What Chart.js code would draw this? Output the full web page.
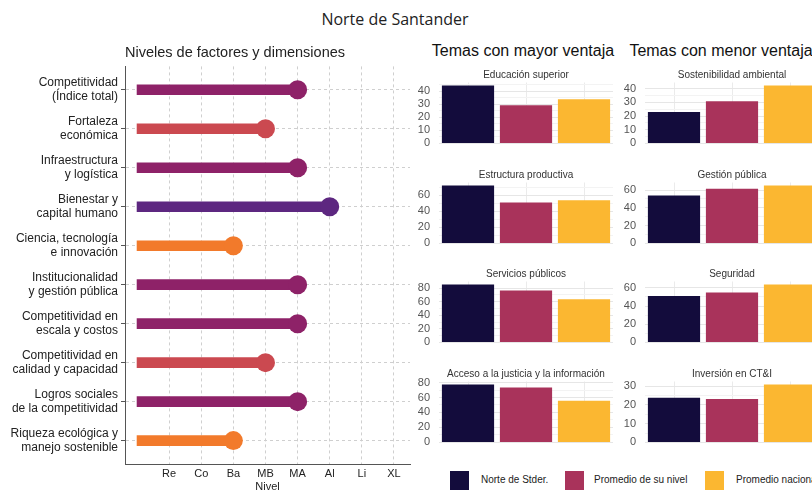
<!DOCTYPE html>
<html lang="es">
<head>
<meta charset="utf-8">
<title>Norte de Santander</title>
<script src="https://cdn.jsdelivr.net/npm/chart.js@4"></script>
<style>
  html, body { margin: 0; padding: 0; background: #fff; }
  body { width: 812px; height: 491px; overflow: hidden; position: relative;
         font-family: "Liberation Sans", Arial, sans-serif; color: #222; }
  .abs { position: absolute; }
  #mainTitle { left: 0; width: 790px; top: 8px; text-align: center;
               font: 16px "Open Sans", sans-serif; color: #222; }
  .section { top: 42px; width: 210px; text-align: center; font-size: 16px; color: #111; white-space: nowrap; }
  .legend-box { width: 19px; height: 19px; top: 471px; }
  .legend-text { top: 474px; font-size: 10px; color: #222; white-space: nowrap; }
  canvas { position: absolute; }
</style>
</head>
<body>
<div id="mainTitle" class="abs">Norte de Santander</div>
<div class="abs section" style="left:418px">Temas con mayor ventaja</div>
<div class="abs section" style="left:616px">Temas con menor ventaja</div>

<canvas id="levels" width="414" height="456" style="left:0;top:40px;z-index:1"></canvas>
<div id="panels"></div>
<div id="legend"></div>

<script>
// ---- Niveles de factores y dimensiones ----
const levelNames = ["Re", "Co", "Ba", "MB", "MA", "Al", "Li", "XL"];
const factorLabels = [
  ["Competitividad", "(Índice total)"],
  ["Fortaleza", "económica"],
  ["Infraestructura", "y logística"],
  ["Bienestar y", "capital humano"],
  ["Ciencia, tecnología", "e innovación"],
  ["Institucionalidad", "y gestión pública"],
  ["Competitividad en", "escala y costos"],
  ["Competitividad en", "calidad y capacidad"],
  ["Logros sociales", "de la competitividad"],
  ["Riqueza ecológica y", "manejo sostenible"]
];
const factorLevels = ["MA", "MB", "MA", "Al", "Ba", "MA", "MA", "MB", "MA", "Ba"];
const levelColors = { Ba: "#F27A2B", MB: "#CB4950", MA: "#8E2268", Al: "#5D2780" };

// ---- Temas con mayor / menor ventaja ----
const seriesNames = ["Norte de Stder.", "Promedio de su nivel", "Promedio nacional"];
const seriesColors = ["#130C3C", "#A9335B", "#FBB731"];
const topicTitles = [
  "Educación superior", "Sostenibilidad ambiental",
  "Estructura productiva", "Gestión pública",
  "Servicios públicos", "Seguridad",
  "Acceso a la justicia y la información", "Inversión en CT&I"
];
const deptValues     = [44.5, 23.0, 72.5, 54.0, 85.3, 51.0, 77.5, 23.8];
const levelAvgValues = [29.3, 30.8, 51.0, 61.5, 76.3, 55.0, 73.5, 23.2];
const nationalValues = [33.8, 42.5, 54.0, 65.3, 63.6, 63.8, 55.5, 31.0];
const tickSteps      = [10, 10, 20, 20, 20, 20, 20, 10];

const FONT = "'Liberation Sans', Arial, sans-serif";
Chart.defaults.font.family = FONT;
Chart.defaults.animation = false;

// Lollipop chart: a thin bar from 0 to the level plus a dot at its end.
const levelPoints = factorLevels.map((lv, i) => ({ x: levelNames.indexOf(lv) + 1, y: i }));
const levelPointColors = factorLevels.map(lv => levelColors[lv]);

new Chart(document.getElementById("levels"), {
  type: "bar",
  data: {
    datasets: [
      { type: "scatter", data: levelPoints, backgroundColor: levelPointColors,
        pointRadius: 9.5, pointBorderWidth: 0, order: 0, xAxisID: "x", yAxisID: "y" },
      { type: "bar", indexAxis: "y", data: levelPoints, backgroundColor: levelPointColors,
        barThickness: 10, borderWidth: 0, order: 1, xAxisID: "x", yAxisID: "y" }
    ]
  },
  options: {
    indexAxis: "y",
    responsive: false,
    events: [],
    layout: { autoPadding: false, padding: { left: 0, right: 4, top: 0, bottom: 0 } },
    plugins: {
      legend: { display: false },
      tooltip: { enabled: false },
      title: {
        display: true, text: "Niveles de factores y dimensiones", fullSize: false,
        align: "start", color: "#222", font: { size: 14.5, weight: "normal" },
        padding: { top: 4, bottom: 5 }
      }
    },
    scales: {
      x: {
        type: "linear", position: "bottom", min: -0.375, max: 8.5, offset: false,
        afterBuildTicks: s => { s.ticks = levelNames.map((_, i) => ({ value: i + 1 })); },
        afterFit: s => { s.height = 32; },
        ticks: { autoSkip: false, padding: 3, color: "#222", font: { size: 11 },
                 callback: v => levelNames[v - 1] },
        grid: { color: "#CFCFCF", drawTicks: false, offset: false },
        border: { display: true, color: "#555", width: 1, dash: [3, 3] },
        title: { display: true, text: "Nivel", color: "#222", font: { size: 11 },
                 padding: { top: 0, bottom: 2 } }
      },
      y: {
        type: "linear", reverse: true, min: -0.6, max: 9.6, offset: false,
        afterBuildTicks: s => { s.ticks = factorLabels.map((_, i) => ({ value: i })); },
        afterFit: s => { s.width = 125; },
        ticks: { autoSkip: false, padding: 3, color: "#222",
                 font: { size: 12, lineHeight: 1.17 },
                 callback: v => factorLabels[v] },
        grid: { color: "#CFCFCF", drawTicks: true, tickLength: 4, tickColor: "#555",
                offset: false },
        border: { display: true, color: "#555", width: 1, dash: [3, 3] }
      }
    }
  }
});

// Small bar panels, two columns by four rows.
const panelsEl = document.getElementById("panels");
topicTitles.forEach((title, i) => {
  const col = i % 2, row = Math.floor(i / 2);
  const cv = document.createElement("canvas");
  cv.width = 205; cv.height = 98;
  cv.style.left = (col ? 617 : 411) + "px";
  cv.style.top = (153 + 99.5 * row - 92) + "px";
  cv.style.zIndex = 2;
  panelsEl.appendChild(cv);

  const vals = [deptValues[i], levelAvgValues[i], nationalValues[i]];
  const step = tickSteps[i];
  const yMax = Math.max(...vals) * 1.05;
  const tickVals = [];
  for (let v = 0; v <= yMax + 1e-9; v += step / 2) tickVals.push(v);
  const isMajor = v => Math.abs(v / step - Math.round(v / step)) < 1e-6;

  new Chart(cv, {
    type: "bar",
    data: {
      labels: seriesNames,
      datasets: [{ data: vals, backgroundColor: seriesColors, borderWidth: 0,
                   categoryPercentage: 1, barPercentage: 0.9 }]
    },
    options: {
      responsive: false,
      events: [],
      layout: { padding: { left: 0, right: 3, top: 0, bottom: 6 } },
      plugins: {
        legend: { display: false },
        tooltip: { enabled: false },
        title: { display: true, text: title, fullSize: false, color: "#333",
                 font: { size: 10, weight: "normal" }, padding: { top: 8, bottom: 1.5 } }
      },
      scales: {
        x: {
          ticks: { display: false },
          grid: { offset: false, color: "#EBEBEB", drawTicks: false },
          border: { display: false },
          afterFit: s => { s.height = 0; }
        },
        y: {
          min: 0, max: yMax,
          afterBuildTicks: s => { s.ticks = tickVals.map(v => ({ value: v })); },
          afterFit: s => { s.width = 28; },
          ticks: { autoSkip: false, padding: 9, color: "#555", font: { size: 11 },
                   callback: v => (isMajor(v) ? v : "") },
          grid: { drawTicks: false,
                  color: c => (isMajor(c.tick.value) ? "#E6E6E6" : "#F3F3F3") },
          border: { display: false }
        }
      }
    }
  });
});

// Legend row
const legendEl = document.getElementById("legend");
const legendPos = [[450, 481], [565, 594], [705, 736]];
seriesNames.forEach((name, i) => {
  const box = document.createElement("div");
  box.className = "abs legend-box";
  box.style.left = legendPos[i][0] + "px";
  box.style.background = seriesColors[i];
  legendEl.appendChild(box);
  const txt = document.createElement("div");
  txt.className = "abs legend-text";
  txt.style.left = legendPos[i][1] + "px";
  txt.textContent = name;
  legendEl.appendChild(txt);
});
</script>
</body>
</html>
